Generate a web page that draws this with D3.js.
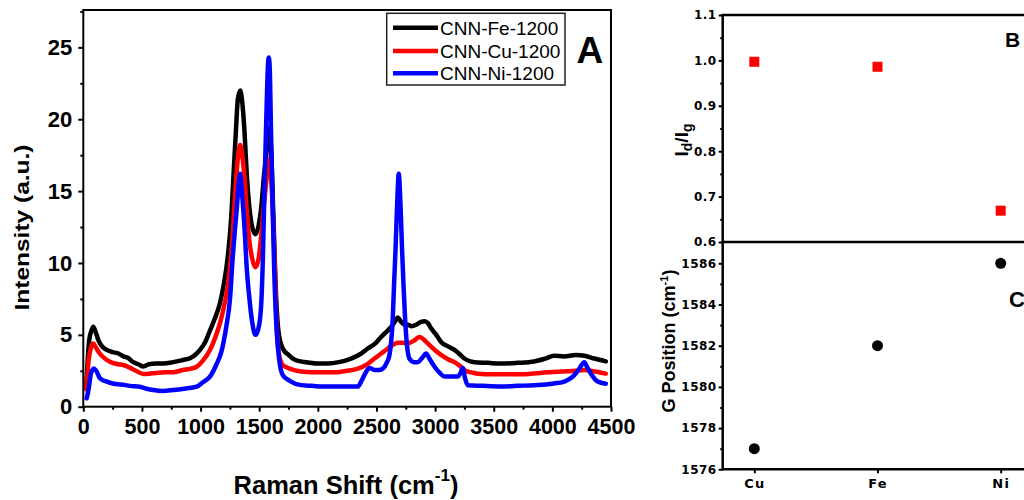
<!DOCTYPE html>
<html>
<head>
<meta charset="utf-8">
<script src="https://cdn.jsdelivr.net/npm/d3@7"></script>
<style>
  body { margin: 0; background: #fff; }
  svg { display: block; }
</style>
</head>
<body>
<svg id="fig" width="1024" height="500"></svg>
<script>
// ---- Raman spectra (Raman shift in cm^-1, intensity in a.u.) ----
const shiftFe = [25,50,70,85,105,130,160,200,250,300,341,380,426,470,512,560,620,680,767,850,910,960,995,1040,1080,1120,1165,1200,1233,1260,1275,1300,1318,1338,1355,1375,1395,1417,1440,1468,1495,1517,1540,1560,1580,1600,1620,1645,1665,1701,1750,1787,1850,1900,2000,2085,2180,2284,2360,2426,2490,2540,2590,2625,2660,2682,2710,2740,2767,2800,2838,2880,2909,2940,2966,3010,3051,3110,3165,3210,3250,3300,3335,3450,3562,3700,3846,3940,4016,4100,4200,4272,4357,4410,4456];
const intensityFe = [1.4,4.6,5.3,5.56,5.2,4.6,4.2,3.95,3.8,3.7,3.5,3.4,3.1,2.95,2.8,2.95,3.0,3.0,3.1,3.25,3.37,3.65,3.95,4.5,5.3,6.1,7.2,8.6,10.5,13.0,15.2,19.0,21.4,22.0,21.2,19.1,16.0,13.8,12.5,12.0,12.6,13.8,16.0,17.5,19.4,18.2,13.5,7.5,5.2,4.05,3.6,3.35,3.15,3.1,3.0,3.0,3.1,3.35,3.65,4.05,4.4,4.85,5.25,5.55,5.95,6.2,5.9,5.7,5.7,5.6,5.7,5.9,5.95,5.8,5.45,5.0,4.5,4.2,3.95,3.65,3.35,3.15,3.1,3.05,3.0,3.05,3.15,3.35,3.55,3.5,3.6,3.55,3.35,3.25,3.15];

const shiftCu = [25,45,65,85,105,140,200,250,300,341,400,460,512,560,620,700,767,850,920,967,1020,1080,1120,1165,1190,1230,1261,1285,1304,1322,1338,1355,1375,1395,1417,1440,1468,1495,1517,1540,1565,1585,1605,1630,1650,1670,1701,1760,1857,1950,2050,2142,2250,2341,2420,2483,2540,2597,2640,2682,2720,2767,2820,2866,2900,2937,2990,3051,3110,3165,3210,3250,3300,3363,3500,3704,3900,4073,4200,4272,4360,4456];
const intensityCu = [1.2,3.2,4.1,4.4,4.15,3.7,3.25,3.05,2.95,2.9,2.7,2.45,2.28,2.3,2.35,2.4,2.4,2.55,2.65,2.78,3.2,3.95,4.7,5.8,6.6,8.3,10.5,13.5,15.9,17.6,18.2,17.5,15.9,13.5,11.5,10.3,9.7,10.3,11.9,14.0,16.0,17.2,15.5,10.5,5.5,3.6,2.9,2.65,2.45,2.4,2.4,2.4,2.5,2.65,2.95,3.35,3.7,4.05,4.3,4.45,4.45,4.4,4.6,4.85,4.7,4.4,4.0,3.6,3.3,3.1,2.85,2.55,2.4,2.3,2.25,2.25,2.35,2.45,2.5,2.55,2.45,2.3];

const shiftNi = [29,45,65,90,110,140,200,260,320,400,483,540,597,680,767,860,967,1020,1080,1133,1180,1220,1251,1275,1295,1309,1325,1338,1352,1375,1395,1417,1440,1468,1495,1517,1532,1545,1562,1575,1582,1590,1600,1611,1628,1645,1670,1701,1760,1857,1950,2050,2142,2250,2341,2369,2410,2440,2483,2520,2554,2590,2611,2625,2639,2650,2662,2676,2690,2705,2719,2732,2744,2760,2781,2820,2852,2890,2923,2955,2994,3040,3080,3140,3193,3220,3236,3255,3278,3400,3562,3700,3846,4000,4102,4150,4187,4230,4272,4300,4329,4386,4456];
const intensityNi = [0.58,1.2,2.3,2.66,2.5,2.0,1.74,1.6,1.55,1.45,1.39,1.25,1.16,1.1,1.16,1.25,1.39,1.7,2.09,2.9,3.9,5.6,7.5,10.5,12.5,13.8,15.5,16.2,15.0,12.4,9.5,7.5,5.9,5.0,5.5,7.1,10.5,15.2,20.5,23.8,24.3,23.5,19.5,15.2,9.5,5.9,3.3,2.2,1.8,1.5,1.45,1.4,1.4,1.4,1.4,1.75,2.4,2.7,2.55,2.55,2.65,3.1,3.6,4.5,6.15,8.5,10.8,14.0,16.2,14.0,10.8,8.2,6.15,4.3,3.35,3.1,3.1,3.4,3.7,3.3,2.8,2.35,2.1,2.1,2.1,2.4,2.7,2.0,1.5,1.45,1.4,1.45,1.5,1.6,1.75,1.95,2.2,2.65,3.1,2.7,2.3,1.75,1.6];

const seriesNames = ["CNN-Fe-1200", "CNN-Cu-1200", "CNN-Ni-1200"];
const seriesColors = ["#000000", "#ff0000", "#0000ff"];
const shiftTicks = [0,500,1000,1500,2000,2500,3000,3500,4000,4500];
const shiftMinorTicks = [250,750,1250,1750,2250,2750,3250,3750,4250];
const intensityTicks = [0,5,10,15,20,25];
const intensityMinorTicks = [2.5,7.5,12.5,17.5,22.5,27.5];

// ---- Catalyst comparison: D/G intensity ratio and G-band position ----
const metals = ["Cu", "Fe", "Ni"];
const idIgRatio = [0.997, 0.986, 0.669];
const gPosition = [1577, 1582, 1586];
const ratioTicks = [0.6,0.7,0.8,0.9,1.0,1.1];
const ratioMinorTicks = [0.65,0.75,0.85,0.95,1.05];
const gTicks = [1576,1578,1580,1582,1584,1586];
const gMinorTicks = [1577,1579,1581,1583,1585];

const svg = d3.select("#fig");
const SANS = "'Liberation Sans', Arial, sans-serif";
const WIDE = "'DejaVu Sans', Verdana, sans-serif";

// ================= Panel A: spectra =================
const x = d3.scaleLinear().domain([0, 4500]).range([83.3, 611]);
const y = d3.scaleLinear().domain([0, 27.6]).range([406.7, 10]);

function styleAxis(g, size, family, weight, spacing) {
  g.select(".domain").remove();
  g.selectAll(".tick line").attr("stroke", "#000").attr("stroke-width", 2);
  g.selectAll(".tick text")
    .attr("fill", "#000")
    .attr("font-size", size)
    .attr("font-family", family)
    .attr("font-weight", weight)
    .attr("letter-spacing", spacing || 0);
}

const gx = svg.append("g").attr("transform", `translate(0,${y(0)})`)
  .call(d3.axisBottom(x).tickValues(shiftTicks).tickFormat(d3.format("d"))
    .tickSize(5).tickPadding(7).tickSizeOuter(0));
styleAxis(gx, 21.5, SANS, "bold");
const gxm = svg.append("g").attr("transform", `translate(0,${y(0)})`)
  .call(d3.axisBottom(x).tickValues(shiftMinorTicks).tickSize(3).tickFormat("").tickSizeOuter(0));
styleAxis(gxm, 10, SANS, "normal");

const gy = svg.append("g").attr("transform", `translate(${x(0)},0)`)
  .call(d3.axisLeft(y).tickValues(intensityTicks).tickSize(5).tickPadding(6).tickSizeOuter(0));
styleAxis(gy, 22, SANS, "bold");
const gym = svg.append("g").attr("transform", `translate(${x(0)},0)`)
  .call(d3.axisLeft(y).tickValues(intensityMinorTicks).tickSize(3).tickFormat("").tickSizeOuter(0));
styleAxis(gym, 10, SANS, "normal");

// spectra, drawn Fe, Cu, then Ni on top
const spectra = [
  { shift: shiftFe, intensity: intensityFe },
  { shift: shiftCu, intensity: intensityCu },
  { shift: shiftNi, intensity: intensityNi }
];
const line = d3.line().x(d => x(d[0])).y(d => y(d[1])).curve(d3.curveMonotoneX);
spectra.forEach((s, i) => {
  const pts = s.shift.map((v, k) => [v, s.intensity[k]]);
  svg.append("path")
    .datum(pts)
    .attr("d", line)
    .attr("fill", "none")
    .attr("stroke", seriesColors[i])
    .attr("stroke-width", 4.5)
    .attr("stroke-linejoin", "round")
    .attr("stroke-linecap", "round");
});

// plot frame
svg.append("rect")
  .attr("x", x(0)).attr("y", y(27.6))
  .attr("width", x(4500) - x(0)).attr("height", y(0) - y(27.6))
  .attr("fill", "none").attr("stroke", "#000").attr("stroke-width", 2);

// legend
const legend = svg.append("g");
legend.append("rect")
  .attr("x", 386.7).attr("y", 13.3).attr("width", 178.3).attr("height", 71.7)
  .attr("fill", "#fff").attr("stroke", "#222").attr("stroke-width", 1.5);
const legendRows = [27.7, 51, 73.3];
seriesNames.forEach((name, i) => {
  legend.append("line")
    .attr("x1", 393).attr("x2", 438)
    .attr("y1", legendRows[i]).attr("y2", legendRows[i])
    .attr("stroke", seriesColors[i]).attr("stroke-width", 4.5);
  legend.append("text")
    .attr("x", 440).attr("y", legendRows[i] + 7)
    .attr("font-family", SANS).attr("font-size", 19)
    .attr("fill", "#000")
    .text(name);
});

// panel letter
svg.append("text").attr("x", 576.5).attr("y", 63.3)
  .attr("font-family", SANS).attr("font-weight", "bold").attr("font-size", 37)
  .text("A");

// axis titles
const xt = svg.append("text")
  .attr("x", 346).attr("y", 494)
  .attr("text-anchor", "middle")
  .attr("font-family", SANS).attr("font-weight", "bold").attr("font-size", 25.5);
xt.append("tspan").text("Raman Shift (cm");
xt.append("tspan").attr("font-size", 17).attr("dy", -13).text("-1");
xt.append("tspan").attr("dy", 13).text(")");

svg.append("text")
  .attr("transform", "translate(29,227.5) rotate(-90) scale(1,0.82)")
  .attr("text-anchor", "middle")
  .attr("font-family", SANS).attr("font-weight", "bold").attr("font-size", 24.5)
  .text("Intensity (a.u.)");

// ================= Panels B and C: per catalyst =================
const xm = d3.scalePoint().domain(metals).range([754.3, 1000.7]);
const yB = d3.scaleLinear().domain([0.6, 1.1]).range([242, 15]);
const yC = d3.scaleLinear().domain([1576, 1587]).range([469.3, 242.7]);
const leftR = 722.7, rightR = 1045;

const gB = svg.append("g").attr("transform", `translate(${leftR},0)`)
  .call(d3.axisLeft(yB).tickValues(ratioTicks).tickSize(4).tickPadding(2)
    .tickFormat(d3.format(".1f")).tickSizeOuter(0));
styleAxis(gB, 12, WIDE, "bold", 0.5);
const gBm = svg.append("g").attr("transform", `translate(${leftR},0)`)
  .call(d3.axisLeft(yB).tickValues(ratioMinorTicks).tickSize(2.5).tickFormat("").tickSizeOuter(0));
styleAxis(gBm, 10, WIDE, "normal");

const gC = svg.append("g").attr("transform", `translate(${leftR},0)`)
  .call(d3.axisLeft(yC).tickValues(gTicks).tickFormat(d3.format("d"))
    .tickSize(4).tickPadding(2).tickSizeOuter(0));
styleAxis(gC, 12, WIDE, "bold", 0.5);
const gCm = svg.append("g").attr("transform", `translate(${leftR},0)`)
  .call(d3.axisLeft(yC).tickValues(gMinorTicks).tickSize(2.5).tickFormat("").tickSizeOuter(0));
styleAxis(gCm, 10, WIDE, "normal");

const gM = svg.append("g").attr("transform", `translate(0,${yC(1576)})`)
  .call(d3.axisBottom(xm).tickSize(4).tickPadding(5).tickSizeOuter(0));
styleAxis(gM, 13, WIDE, "bold", 1.2);

// frame of the stacked panels
svg.append("path")
  .attr("d", `M${rightR},${yB(1.1)}H${leftR}V${yC(1576)}H${rightR}M${leftR},${yB(0.6)}H${rightR}`)
  .attr("fill", "none").attr("stroke", "#000").attr("stroke-width", 2.5);

// I_D/I_G squares
svg.append("g").selectAll("rect")
  .data(metals)
  .join("rect")
  .attr("x", d => xm(d) - 5)
  .attr("y", (d, i) => yB(idIgRatio[i]) - 5)
  .attr("width", 10).attr("height", 10)
  .attr("fill", "#ff0000");

// G-band position circles
svg.append("g").selectAll("circle")
  .data(metals)
  .join("circle")
  .attr("cx", d => xm(d))
  .attr("cy", (d, i) => yC(gPosition[i]))
  .attr("r", 5.5)
  .attr("fill", "#000");

// panel letters
svg.append("text").attr("x", 1005).attr("y", 46.5)
  .attr("font-family", SANS).attr("font-weight", "bold").attr("font-size", 21)
  .text("B");
svg.append("text").attr("x", 1009).attr("y", 306.5)
  .attr("font-family", SANS).attr("font-weight", "bold").attr("font-size", 22)
  .text("C");

// y titles
const tB = svg.append("text")
  .attr("transform", "translate(688,140) rotate(-90)")
  .attr("text-anchor", "middle")
  .attr("font-family", SANS).attr("font-weight", "bold").attr("font-size", 19);
tB.append("tspan").text("I");
tB.append("tspan").attr("font-size", 14).attr("dy", 4).text("d");
tB.append("tspan").attr("dy", -4).text("/I");
tB.append("tspan").attr("font-size", 14).attr("dy", 4).text("g");

const tC = svg.append("text")
  .attr("transform", "translate(675,341) rotate(-90)")
  .attr("text-anchor", "middle")
  .attr("font-family", SANS).attr("font-weight", "bold").attr("font-size", 18);
tC.append("tspan").text("G Position (cm");
tC.append("tspan").attr("font-size", 11).attr("dy", -7).text("-1");
tC.append("tspan").attr("dy", 7).text(")");
</script>
</body>
</html>
